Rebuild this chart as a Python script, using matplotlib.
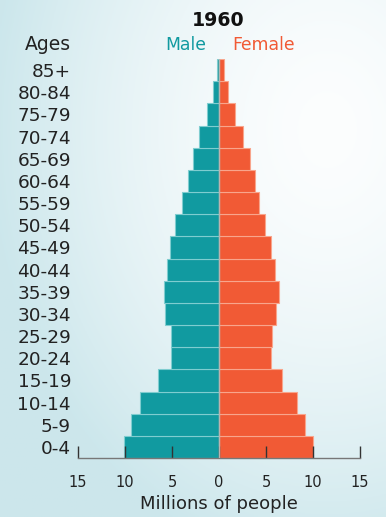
import numpy as np
import matplotlib
matplotlib.use("Agg")
import matplotlib.pyplot as plt

ages = ["0-4", "5-9", "10-14", "15-19", "20-24", "25-29", "30-34", "35-39",
        "40-44", "45-49", "50-54", "55-59", "60-64", "65-69", "70-74",
        "75-79", "80-84", "85+"]
male = [10.15, 9.4, 8.4, 6.5, 5.1, 5.15, 5.75, 5.9, 5.55, 5.2, 4.65, 3.95,
        3.3, 2.8, 2.1, 1.25, 0.6, 0.25]
female = [10.05, 9.2, 8.25, 6.65, 5.55, 5.6, 6.1, 6.4, 5.95, 5.5, 4.85, 4.3,
          3.8, 3.35, 2.55, 1.7, 0.95, 0.55]
xticks = [-15, -10, -5, 0, 5, 10, 15]
xticklabels = ["15", "10", "5", "0", "5", "10", "15"]

MALE_C = "#119AA0"
FEMALE_C = "#F15A35"
TEXT_C = "#222222"
FONT = ["DejaVu Sans"]

W, H = 386, 517
fig = plt.figure(figsize=(W / 100, H / 100), dpi=100)

# background gradient (row 0 = top)
bg = fig.add_axes([0, 0, 1, 1])
yy, xx = np.mgrid[0:1:200j, 0:1:200j]
d = np.clip(np.sqrt(((xx - 0.85) / 0.88) ** 2 + ((yy - 0.25) / 0.85) ** 2), 0, 1)
c0 = np.array([0.988, 0.994, 0.996])
c1 = np.array([0.80, 0.905, 0.925])
t = d[..., None] ** 1.6
img = c0 * (1 - t) + c1 * t
bg.imshow(img, extent=[0, 1, 0, 1], origin="upper", aspect="auto")
bg.axis("off")

x0, x1 = 78, 360
ytop, ybot = 59, 458
ax = fig.add_axes([x0 / W, (H - ybot) / H, (x1 - x0) / W, (ybot - ytop) / H])
ax.patch.set_alpha(0)
y = np.arange(len(ages))
ax.barh(y, [-m for m in male], height=1.0, color=MALE_C, edgecolor="#7fcdd0",
        linewidth=0.8)
ax.barh(y, female, height=1.0, color=FEMALE_C, edgecolor="#f8a58c",
        linewidth=0.8)
ax.axvline(0, color="#b9b3b0", lw=1.0, zorder=3)
ax.set_xlim(-15, 15)
ax.set_ylim(-0.5, len(ages) - 0.5)
for s in ["top", "right", "left"]:
    ax.spines[s].set_visible(False)
ax.spines["bottom"].set_color("#777777")
ax.spines["bottom"].set_linewidth(1.0)
ax.set_yticks(y)
ax.set_yticklabels(ages, fontsize=13.3, color=TEXT_C, family=FONT)
ax.tick_params(axis="y", length=0, pad=5)
ax.set_xticks(xticks)
ax.set_xticklabels(xticklabels, fontsize=10.5, color=TEXT_C, family=FONT)
ax.tick_params(axis="x", direction="in", length=9, width=1.0, color="#333333",
               pad=12)
ax.set_xlabel("Millions of people", fontsize=13, color=TEXT_C, family=FONT,
              labelpad=4)

fig.text(218 / W, 1 - 20 / H, "1960", ha="center", va="center", fontsize=13.7,
         fontweight="bold", color="#111111", family=FONT)
fig.text(71 / W, 1 - 45 / H, "Ages", ha="right", va="center", fontsize=13.5,
         color=TEXT_C, family=FONT)
fig.text(186 / W, 1 - 45 / H, "Male", ha="center", va="center", fontsize=12.4,
         color=MALE_C, family=FONT)
fig.text(264 / W, 1 - 45 / H, "Female", ha="center", va="center", fontsize=12.4,
         color=FEMALE_C, family=FONT)

fig.savefig("out.png", dpi=100)
